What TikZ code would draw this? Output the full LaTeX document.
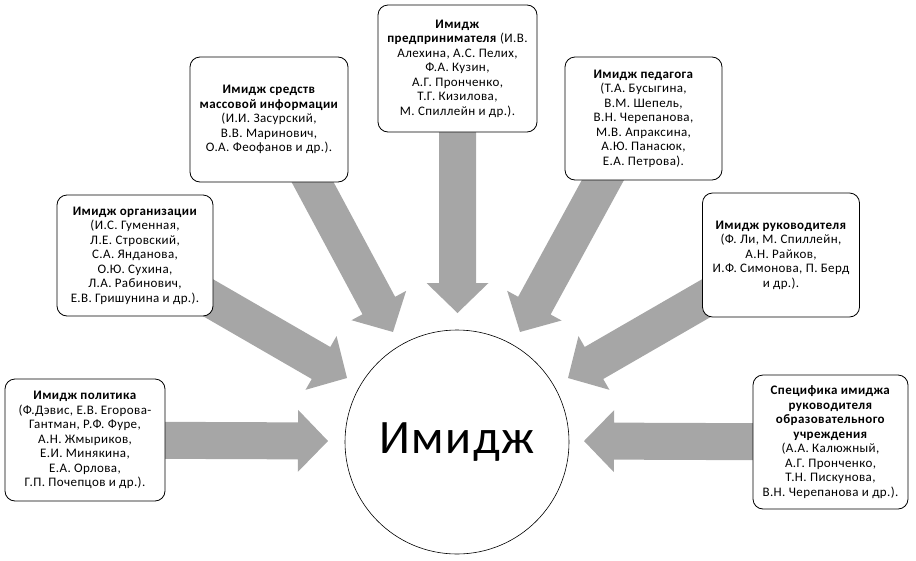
\documentclass[tikz,border=0pt]{standalone}
\usepackage{fontspec}
\setmainfont{Carlito}[LetterSpace=3]
\usetikzlibrary{calc,backgrounds}
\definecolor{arrowgray}{HTML}{A6A6A6}
\newcommand\imgarrow[2]{%
  \fill[arrowgray] let \p1=($(#2)-(#1)$), \n1={atan2(\y1,\x1)}, \n2={veclen(\x1,\y1)} in
    [shift={(#1)}, rotate=\n1] (0pt,-18.5pt) -- (\n2-30pt,-18.5pt) -- (\n2-30pt,-31pt) -- (\n2,0pt)
    -- (\n2-30pt,31pt) -- (\n2-30pt,18.5pt) -- (0pt,18.5pt) -- cycle;}
\begin{document}
\begin{tikzpicture}[x=1pt,y=-1pt,
box/.style={draw,fill=white,rounded corners=10pt,line width=0.8pt,align=center,
  inner sep=2pt,font=\fontsize{13}{14.5}\selectfont},
hub/.style={draw,circle,fill=white,minimum size=224pt,line width=0.6pt,
  font=\fontsize{48}{55}\selectfont}]
\useasboundingbox (0,0) rectangle (916,560);
\node[hub] (img) at (457,442) {Имидж};
\node[box,minimum width=160pt,minimum height=122pt] (pol) at (85,440)
  {\textbf{Имидж политика}\\(Ф.Дэвис, Е.В. Егорова-\\Гантман, Р.Ф. Фуре,\\А.Н. Жмыриков,\\Е.И. Минякина,\\Е.А. Орлова,\\Г.П. Почепцов и др.).};
\node[box,minimum width=156pt,minimum height=121pt] (org) at (135,255.5)
  {\textbf{Имидж организации}\\(И.С. Гуменная,\\Л.Е. Стровский,\\С.А. Янданова,\\О.Ю. Сухина,\\Л.А. Рабинович,\\Е.В. Гришунина и др.).};
\node[box,minimum width=158pt,minimum height=125pt] (media) at (269,119.5)
  {\textbf{Имидж средств}\\\textbf{массовой информации}\\(И.И. Засурский,\\В.В. Маринович,\\О.А. Феофанов и др.).};
\node[box,minimum width=159pt,minimum height=127pt] (entr) at (457.5,68.5)
  {\textbf{Имидж}\\\textbf{предпринимателя} (И.В.\\Алехина, А.С. Пелих,\\Ф.А. Кузин,\\А.Г. Пронченко,\\Т.Г. Кизилова,\\М. Спиллейн и др.).};
\node[box,minimum width=157pt,minimum height=123pt] (ped) at (643.5,118.5)
  {\textbf{Имидж педагога}\\(Т.А. Бусыгина,\\В.М. Шепель,\\В.Н. Черепанова,\\М.В. Апраксина,\\А.Ю. Панасюк,\\Е.А. Петрова).};
\node[box,minimum width=157pt,minimum height=124pt] (mgr) at (781,255)
  {\textbf{Имидж руководителя}\\(Ф. Ли, М. Спиллейн,\\А.Н. Райков,\\И.Ф. Симонова, П. Берд\\и др.).};
\node[box,minimum width=155pt,minimum height=134pt] (spec) at (830.5,442)
  {\textbf{Специфика имиджа}\\\textbf{руководителя}\\\textbf{образовательного}\\\textbf{учреждения}\\(А.А. Калюжный,\\А.Г. Пронченко,\\Т.Н. Пискунова,\\В.Н. Черепанова и др.).};
\coordinate (srcMedia) at ([xshift=10pt]media.center);
\coordinate (srcPed) at ([xshift=-7pt]ped.center);
\coordinate (tipPol) at (328,441);
\coordinate (tipOrg) at (347,378);
\coordinate (tipMedia) at (393,332);
\coordinate (tipEntr) at (457.5,313);
\coordinate (tipPed) at (520,332);
\coordinate (tipMgr) at (568,378);
\coordinate (tipSpec) at (584,441);
\begin{scope}[on background layer]
\imgarrow{pol}{tipPol}
\imgarrow{org}{tipOrg}
\imgarrow{srcMedia}{tipMedia}
\imgarrow{entr}{tipEntr}
\imgarrow{srcPed}{tipPed}
\imgarrow{mgr}{tipMgr}
\imgarrow{spec}{tipSpec}
\end{scope}
\end{tikzpicture}
\end{document}
